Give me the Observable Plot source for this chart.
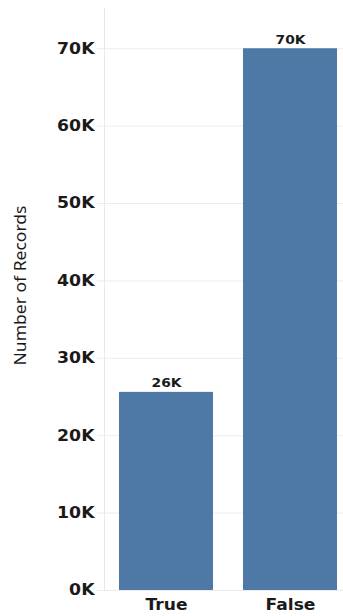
<!DOCTYPE html>
<html>
<head>
<meta charset="utf-8">
<script src="https://cdn.jsdelivr.net/npm/d3@7"></script>
<script src="https://cdn.jsdelivr.net/npm/@observablehq/plot@0.6"></script>
<style>
  html, body { margin: 0; padding: 0; background: #fff; }
</style>
</head>
<body>
<div id="chart"></div>
<script>
const categories = ["True", "False"];
const records = [25600, 70000];
const yTicks = [0, 10000, 20000, 30000, 40000, 50000, 60000, 70000];
const yTitle = "Number of Records";

const data = categories.map((c, i) => ({cat: c, n: records[i]}));
const fmtK = d => Math.round(d / 1000) + "K";

const chart = Plot.plot({
  width: 343,
  height: 616,
  marginLeft: 104,
  marginRight: 0,
  marginTop: 8,
  marginBottom: 26,
  style: {fontFamily: "DejaVu Sans", background: "#fff", color: "#1a1a1a"},
  x: {domain: categories, range: [104, 352], paddingInner: 0.245, paddingOuter: 0.12, axis: null},
  y: {domain: [0, 75200], axis: null},
  marks: [
    Plot.gridY(yTicks, {stroke: "#ececec", strokeOpacity: 1}),
    Plot.axisY(yTicks, {tickSize: 7, stroke: "#ececec", tickPadding: 3, tickFormat: fmtK,
      fontSize: 15, fontWeight: "bold", label: null}),
    Plot.frame({anchor: "left", stroke: "#e8e8e8"}),
    Plot.barY(data, {x: "cat", y: "n", fill: "#4e79a7"}),
    Plot.text(data, {x: "cat", y: "n", text: d => fmtK(d.n), dy: -9, fontWeight: "bold", fontSize: 12, fill: "#1a1a1a"}),
    Plot.axisX(categories, {tickSize: 0, tickPadding: 8, fontSize: 16, fontWeight: "bold", label: null}),
    Plot.text([yTitle], {frameAnchor: "left", text: d => d, rotate: -90, dx: -84, dy: -14, textAnchor: "middle",
      fontFamily: "Noto Sans", fontSize: 17, fill: "#1a1a1a"})
  ]
});
document.getElementById("chart").appendChild(chart);

// horizontally stretch texts to match the reference's wide lettering
function stretch(sel, k) {
  chart.querySelectorAll(sel).forEach(t => {
    const L = t.getComputedTextLength();
    t.setAttribute("textLength", (L * k).toFixed(1));
    t.setAttribute("lengthAdjust", "spacingAndGlyphs");
  });
}
stretch('[aria-label="y-axis tick label"] text', 1.15);
stretch('[aria-label="x-axis tick label"] text', 1.07);
stretch('[aria-label="text"] text', 1.15);
const title = [...chart.querySelectorAll("text")].find(t => t.textContent === yTitle);
if (title) {
  title.setAttribute("textLength", "160");
  title.setAttribute("lengthAdjust", "spacingAndGlyphs");
}
</script>
</body>
</html>
